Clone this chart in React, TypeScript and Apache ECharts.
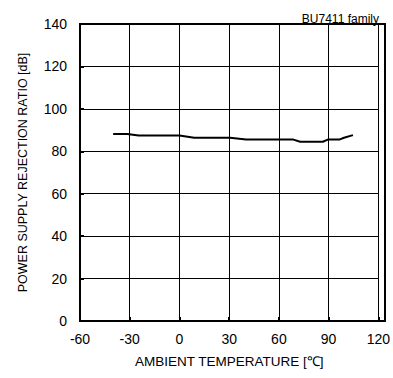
import React, { useEffect, useRef } from "react";
import * as echarts from "echarts";

const temperatures = [-40, -31.5, -24.6, 0, 8.9, 30.5, 40.3, 68.8, 72.8, 86.5, 89.5, 96.4, 99.3, 104.7];
const psrr = [88.2, 88.2, 87.4, 87.4, 86.4, 86.4, 85.5, 85.5, 84.5, 84.5, 85.5, 85.5, 86.4, 87.6];
const xTicks = [-60, -30, 0, 30, 60, 90, 120];
const yTicks = [0, 20, 40, 60, 80, 100, 120, 140];

const FONT = "'Liberation Sans', Arial, sans-serif";

export default function App() {
  const ref = useRef<HTMLDivElement>(null);
  useEffect(() => {
    if (!ref.current) return;
    const chart = echarts.init(ref.current, undefined, { renderer: "svg" });
    chart.setOption({
      animation: false,
      backgroundColor: "#fff",
      grid: { left: 80, right: 8, top: 24, bottom: 57, containLabel: false },
      title: {
        text: "BU7411 family",
        right: 9,
        top: 8,
        textStyle: { fontFamily: FONT, fontSize: 12, fontWeight: "normal", color: "#000" },
      },
      xAxis: {
        type: "value",
        min: xTicks[0],
        max: xTicks[xTicks.length - 1],
        interval: 30,
        name: "AMBIENT TEMPERATURE [\u2103]",
        nameLocation: "middle",
        nameGap: 33,
        nameTextStyle: { fontFamily: FONT, fontSize: 13.5, color: "#000" },
        axisLine: { show: true, onZero: false, lineStyle: { color: "#000", width: 2 } },
        axisTick: { show: true, inside: true, length: 4, lineStyle: { color: "#000", width: 2 } },
        axisLabel: { fontFamily: FONT, fontSize: 14, color: "#000", margin: 11 },
        splitLine: { show: true, lineStyle: { color: "#000", width: 1 } },
      },
      yAxis: {
        type: "value",
        min: yTicks[0],
        max: yTicks[yTicks.length - 1],
        interval: 20,
        name: "POWER SUPPLY REJECTION RATIO [dB]",
        nameLocation: "middle",
        nameGap: 51,
        nameTextStyle: { fontFamily: FONT, fontSize: 12.5, color: "#000" },
        axisLine: { show: true, onZero: false, lineStyle: { color: "#000", width: 2 } },
        axisTick: { show: true, inside: true, length: 4, lineStyle: { color: "#000", width: 2 } },
        axisLabel: { fontFamily: FONT, fontSize: 14, color: "#000", margin: 13 },
        splitLine: { show: true, lineStyle: { color: "#000", width: 1 } },
      },
      series: [
        {
          type: "line",
          data: temperatures.map((t, i) => [t, psrr[i]]),
          showSymbol: false,
          lineStyle: { color: "#000", width: 2 },
        },
      ],
      graphic: [
        {
          type: "rect",
          shape: { x: 80, y: 24, width: 305, height: 297 },
          style: { fill: "none", stroke: "#000", lineWidth: 2 },
          silent: true,
          z: 100,
        },
      ],
    });
    return () => chart.dispose();
  }, []);
  return (
    <div
      ref={ref}
      style={{ position: "fixed", left: 0, top: 0, width: 393, height: 378 }}
    />
  );
}
